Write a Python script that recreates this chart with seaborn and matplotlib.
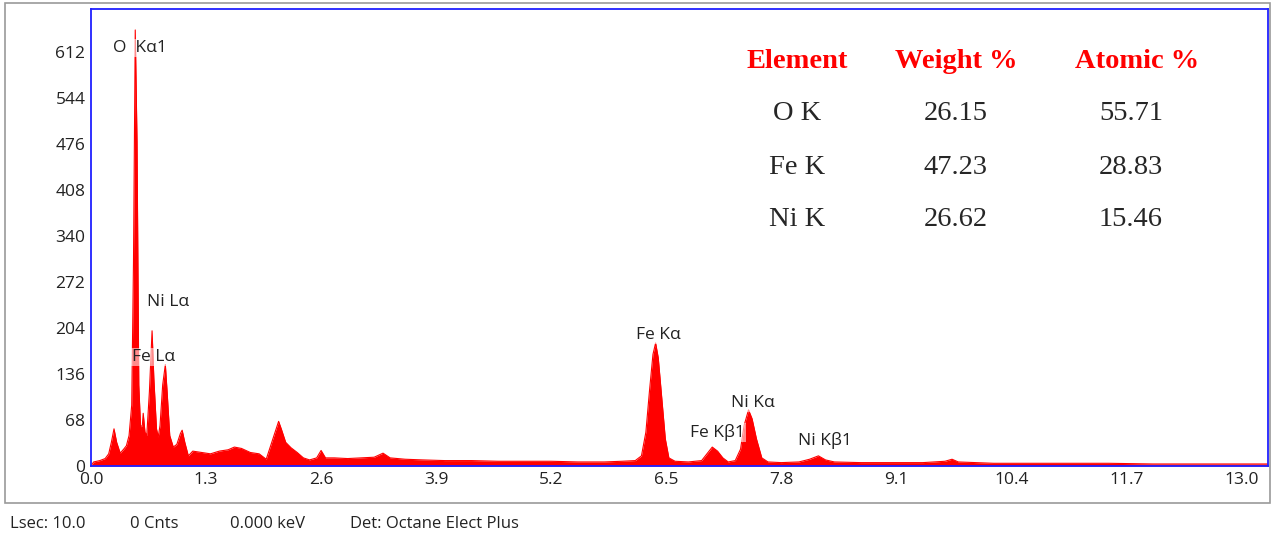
import numpy as np
import pandas as pd
import seaborn as sns
import matplotlib.pyplot as plt
from matplotlib.patches import Rectangle

# spectrum (keV, counts)
energy = [0.00, 0.03, 0.10, 0.16, 0.20, 0.23, 0.26, 0.29, 0.33, 0.37,
          0.40, 0.43, 0.46, 0.48, 0.50, 0.52, 0.54, 0.56, 0.58, 0.59,
          0.61, 0.63, 0.66, 0.69, 0.71, 0.74, 0.76, 0.78, 0.81, 0.84,
          0.86, 0.89, 0.93, 0.97, 1.01, 1.03, 1.06, 1.10, 1.15, 1.25,
          1.35, 1.45, 1.55, 1.62, 1.70, 1.80, 1.90, 1.98, 2.03, 2.08,
          2.12, 2.15, 2.20, 2.26, 2.33, 2.40, 2.47, 2.55, 2.60, 2.65,
          2.75, 2.90, 3.05, 3.20, 3.30, 3.38, 3.55, 3.75, 4.00, 4.30,
          4.60, 4.90, 5.20, 5.50, 5.80, 6.00, 6.15, 6.22, 6.27, 6.31,
          6.35, 6.38, 6.41, 6.45, 6.49, 6.53, 6.60, 6.75, 6.90, 6.96,
          7.02, 7.08, 7.14, 7.20, 7.28, 7.34, 7.38, 7.43, 7.47, 7.52,
          7.58, 7.65, 7.80, 8.00, 8.12, 8.22, 8.30, 8.40, 8.70, 9.00,
          9.40, 9.65, 9.73, 9.80, 10.2, 10.8, 11.5, 12.0, 12.5, 13.0, 13.3]
counts = [0, 6, 8, 11, 18, 35, 55, 35, 19, 25,
          30, 45, 90, 300, 645, 480, 120, 58, 60, 78,
          50, 45, 110, 200, 130, 55, 43, 60, 120, 150,
          110, 45, 28, 32, 48, 53, 35, 15, 22, 20,
          18, 22, 24, 28, 26, 20, 18, 10, 30, 50,
          66, 55, 35, 27, 20, 12, 9, 12, 23, 12,
          12, 11, 12, 13, 19, 12, 10, 9, 8, 8,
          7, 7, 7, 6, 6, 7, 8, 15, 50, 110,
          165, 182, 160, 100, 40, 12, 7, 6, 8, 18,
          28, 22, 12, 6, 8, 25, 60, 83, 70, 40,
          12, 6, 5, 6, 10, 15, 9, 6, 5, 5,
          5, 7, 10, 6, 4, 4, 4, 3, 3, 3, 3]

peak_labels = ["O  K\u03b11", "Ni L\u03b1", "Fe L\u03b1", "Fe K\u03b1",
               "Fe K\u03b21", "Ni K\u03b1", "Ni K\u03b21"]
label_x = [0.25, 0.63, 0.46, 6.16, 6.77, 7.23, 7.99]
label_y = [618, 243, 161, 194, 50, 93, 38]

elements = ["O K", "Fe K", "Ni K"]
weight_pct = ["26.15", "47.23", "26.62"]
atomic_pct = ["55.71", "28.83", "15.46"]

xticks = [0.0, 1.3, 2.6, 3.9, 5.2, 6.5, 7.8, 9.1, 10.4, 11.7, 13.0]
yticks = [0, 68, 136, 204, 272, 340, 408, 476, 544, 612]

df = pd.DataFrame({"keV": energy, "Counts": counts})

sns.set_style("white")
plt.rcParams['font.family'] = ['Open Sans', 'DejaVu Sans']

W, H = 1275, 537
fig = plt.figure(figsize=(W / 100, H / 100), dpi=100)
fig.patches.append(Rectangle((5 / W, 1 - 503 / H), 1265 / W, 500 / H,
                             transform=fig.transFigure, fill=False,
                             edgecolor="#9a9a9a", linewidth=1.2))

ax = fig.add_axes([91 / W, 1 - 466 / H, 1177 / W, 457 / H])
ax.fill_between(df["keV"], df["Counts"], color="#ff0000", linewidth=0)
sns.lineplot(data=df, x="keV", y="Counts", ax=ax, color="#ff0000", linewidth=0.8)

ax.set_xlim(0, 13.3)
ax.set_ylim(0, 676)
ax.set_xticks(xticks)
ax.set_xticklabels([f"{t:.1f}" for t in xticks])
ax.set_yticks(yticks)
ax.set_xlabel("")
ax.set_ylabel("")
ax.tick_params(axis="both", direction="out", length=3, width=0.8, color="#777777",
               labelsize=12.5, labelcolor="#222222", pad=1)
for sp in ax.spines.values():
    sp.set_color("#2020ff")
    sp.set_linewidth(1.3)

for lab, lx, ly in zip(peak_labels, label_x, label_y):
    ax.text(lx, ly, lab, fontsize=12.5, color="#222222", va="center", ha="left",
            bbox=dict(boxstyle="square,pad=0.05", facecolor="white",
                      edgecolor="none", alpha=0.55))

# composition table
col_x = [797 / W, 956 / W, 1137 / W]
row_y = [1 - 114 / H, 1 - 167 / H, 1 - 219 / H]
serif = ['Liberation Serif', 'DejaVu Serif']
for cx, head in zip(col_x, ["Element", "Weight %", "Atomic %"]):
    fig.text(cx, 1 - 62 / H, head, fontsize=20.5, fontweight="bold", color="#ff0000",
             ha="center", va="center", family=serif)
for i, ry in enumerate(row_y):
    fig.text(col_x[0], ry, elements[i], fontsize=20.5, ha="center", va="center", family=serif)
    fig.text(col_x[1], ry, weight_pct[i], fontsize=20.5, ha="center", va="center", family=serif)
    fig.text(1131 / W, ry, atomic_pct[i], fontsize=20.5, ha="center", va="center", family=serif)

# status footer
footer = ["Lsec: 10.0", "0 Cnts", "0.000 keV", "Det: Octane Elect Plus"]
footer_x = [10, 130, 230, 350]
for txt, fx in zip(footer, footer_x):
    fig.text(fx / W, 1 - 524 / H, txt, fontsize=12, color="#222222", va="center")

plt.savefig("out.png", dpi=100)
plt.close()
